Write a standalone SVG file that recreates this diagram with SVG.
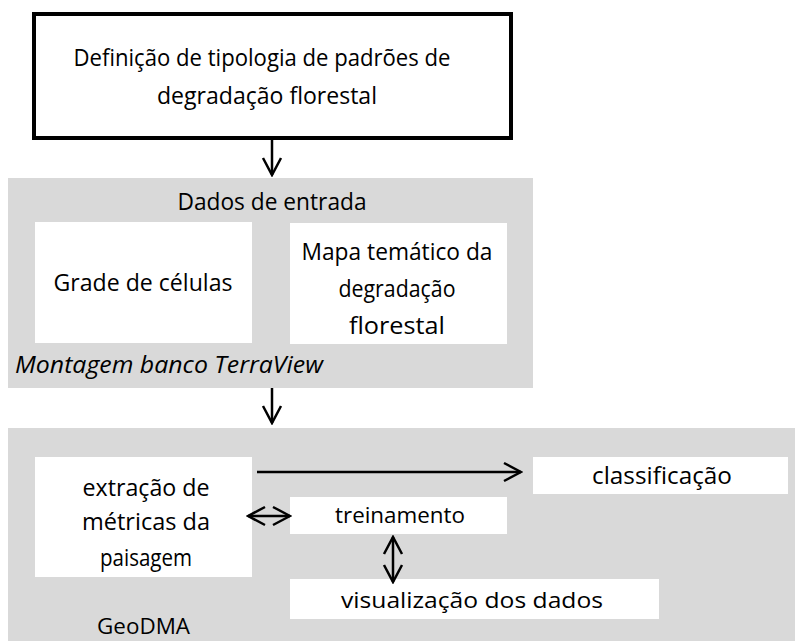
<svg xmlns="http://www.w3.org/2000/svg" width="795" height="641" viewBox="0 0 795 641">
  <style>
    text { font-family: "Open Sans", "DejaVu Sans", sans-serif; font-size: 23px; fill: #000; }
    .c { text-anchor: middle; }
    .it { font-style: italic; }
    .s { font-size: 21px; }
    .panel { fill: #d9d9d9; }
    .box { fill: #fff; }
    .main { fill: #fff; stroke: #000; stroke-width: 4; }
    .conn { fill: none; stroke: #000; stroke-width: 2.5; }
  </style>
  <defs>
    <marker id="head" markerUnits="userSpaceOnUse" viewBox="0 0 20 22" refX="18" refY="11" markerWidth="20" markerHeight="22" orient="auto-start-reverse">
      <path d="M1,2 L18,11 L1,20" fill="none" stroke="#000" stroke-width="2.5"/>
    </marker>
  </defs>
  <rect width="795" height="641" fill="#fff"/>

  <g id="tipologia">
    <rect class="main" x="34" y="14" width="477" height="124"/>
    <text class="c" x="262" y="66" textLength="377" lengthAdjust="spacingAndGlyphs">Definição de tipologia de padrões de</text>
    <text class="c" x="267" y="104" textLength="220" lengthAdjust="spacingAndGlyphs">degradação florestal</text>
  </g>

  <g id="terraview">
    <rect class="panel" x="8" y="178" width="525" height="210"/>
    <text class="c" x="272" y="210" textLength="189" lengthAdjust="spacingAndGlyphs">Dados de entrada</text>
    <text class="it" x="15" y="373" textLength="308" lengthAdjust="spacingAndGlyphs">Montagem banco TerraView</text>
  </g>

  <g id="grade">
    <rect class="box" x="35" y="222" width="217" height="121"/>
    <text class="c" x="143" y="291" textLength="179" lengthAdjust="spacingAndGlyphs">Grade de células</text>
  </g>

  <g id="mapa">
    <rect class="box" x="290" y="223" width="217" height="121"/>
    <text class="c" x="397" y="260" textLength="191" lengthAdjust="spacingAndGlyphs">Mapa temático da</text>
    <text class="c" x="397" y="297" textLength="117" lengthAdjust="spacingAndGlyphs">degradação</text>
    <text class="c" x="397" y="334" textLength="96" lengthAdjust="spacingAndGlyphs">florestal</text>
  </g>

  <g id="geodma">
    <rect class="panel" x="8" y="428" width="787" height="213"/>
    <text class="s" x="97" y="634" textLength="93" lengthAdjust="spacingAndGlyphs">GeoDMA</text>
  </g>

  <g id="extracao">
    <rect class="box" x="35" y="457" width="217" height="120"/>
    <text class="c" x="146" y="496" textLength="127" lengthAdjust="spacingAndGlyphs">extração de</text>
    <text class="c" x="146" y="530" textLength="128" lengthAdjust="spacingAndGlyphs">métricas da</text>
    <text class="c" x="146" y="566" textLength="92" lengthAdjust="spacingAndGlyphs">paisagem</text>
  </g>

  <g id="classificacao">
    <rect class="box" x="533" y="457" width="255" height="37"/>
    <text class="c" x="662" y="484" textLength="140" lengthAdjust="spacingAndGlyphs">classificação</text>
  </g>

  <g id="treinamento">
    <rect class="box" x="290" y="497" width="217" height="37"/>
    <text class="c s" x="400" y="523" textLength="130" lengthAdjust="spacingAndGlyphs">treinamento</text>
  </g>

  <g id="visualizacao">
    <rect class="box" x="290" y="579" width="369" height="40"/>
    <text class="c s" x="472" y="608" textLength="262" lengthAdjust="spacingAndGlyphs">visualização dos dados</text>
  </g>

  <g id="connectors">
    <line class="conn" x1="272" y1="140" x2="272" y2="175" marker-end="url(#head)"/>
    <line class="conn" x1="272" y1="388" x2="272" y2="423" marker-end="url(#head)"/>
    <line class="conn" x1="257" y1="472" x2="521" y2="472" marker-end="url(#head)"/>
    <line class="conn" x1="248" y1="516" x2="290" y2="516" marker-start="url(#head)" marker-end="url(#head)"/>
    <line class="conn" x1="393" y1="537" x2="393" y2="582" marker-start="url(#head)" marker-end="url(#head)"/>
  </g>
</svg>
